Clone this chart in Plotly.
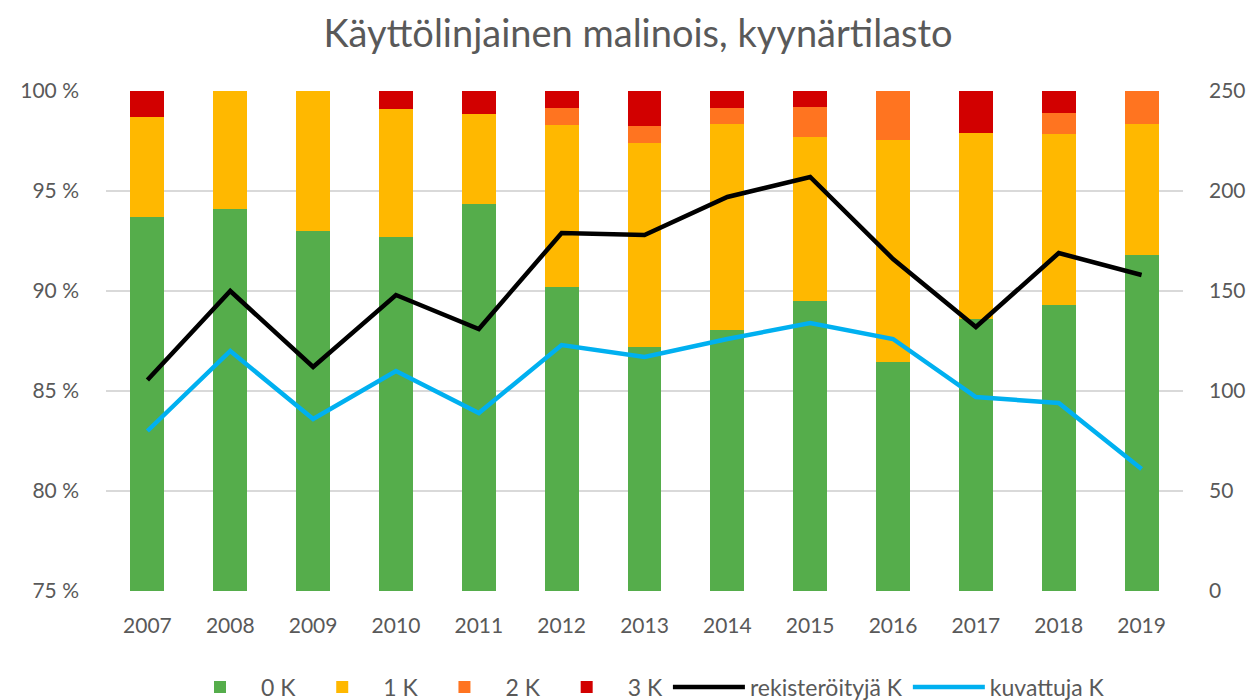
import plotly.graph_objects as go

years = ["2007", "2008", "2009", "2010", "2011", "2012", "2013",
         "2014", "2015", "2016", "2017", "2018", "2019"]
k0 = [93.7, 94.1, 93.0, 92.7, 94.35, 90.2, 87.2, 88.05, 89.5, 86.45, 88.6, 89.3, 91.8]
k1 = [5.0, 5.9, 7.0, 6.4, 4.5, 8.1, 10.2, 10.3, 8.2, 11.1, 9.3, 8.55, 6.55]
k2 = [0, 0, 0, 0, 0, 0.85, 0.85, 0.8, 1.5, 2.45, 0, 1.05, 1.65]
k3 = [1.3, 0, 0, 0.9, 1.15, 0.85, 1.75, 0.85, 0.8, 0, 2.1, 1.1, 0]
rekisteroityja = [105.5, 150, 112, 148, 131, 179, 178, 197, 207, 166, 132, 169, 158]
kuvattuja = [80, 120, 86, 110, 89, 123, 117, 126, 134, 126, 97, 94, 61]

left_ticks = [75, 80, 85, 90, 95, 100]
left_labels = ["75 %", "80 %", "85 %", "90 %", "95 %", "100 %"]
right_ticks = [0, 50, 100, 150, 200, 250]

font = "Lato"
grey = "#595959"

fig = go.Figure()
for name, vals, col in [("0 K", k0, "#55AD4B"), ("1 K", k1, "#FFB800"),
                        ("2 K", k2, "#FF7420"), ("3 K", k3, "#D20000")]:
    fig.add_trace(go.Bar(x=years, y=vals, name=name, marker_color=col,
                         marker_line_width=0))
fig.add_trace(go.Scatter(x=years, y=rekisteroityja, name="rekisteröityjä K",
                         mode="lines", line=dict(color="black", width=4.5),
                         yaxis="y2"))
fig.add_trace(go.Scatter(x=years, y=kuvattuja, name="kuvattuja K",
                         mode="lines", line=dict(color="#00B0F0", width=4.5),
                         yaxis="y2"))

fig.update_layout(
    width=1260, height=700,
    barmode="stack", bargap=0.59,
    paper_bgcolor="white", plot_bgcolor="white",
    margin=dict(l=92, r=85, t=83, b=117),
    font=dict(family=font, size=21, color=grey),
    title=dict(text="Käyttölinjainen malinois, kyynärtilasto",
               x=0.5, xanchor="center", y=0.964, yanchor="middle",
               font=dict(family=font, size=38, color=grey)),
    xaxis=dict(showgrid=False, showline=False, ticks="",
               tickfont=dict(size=21), ticklabelstandoff=20),
    yaxis=dict(range=[75, 100], tickvals=left_ticks, ticktext=left_labels,
               showgrid=True, gridcolor="#D9D9D9", gridwidth=1.5,
               zeroline=False, showline=False, ticks="",
               tickfont=dict(size=21), ticklabelstandoff=26),
    yaxis2=dict(range=[0, 250], tickvals=right_ticks, overlaying="y",
                side="right", anchor="free", position=1, shift=0,
                showgrid=False, zeroline=False, showline=False,
                ticks="", tickfont=dict(size=21), ticklabelstandoff=25),
    legend=dict(orientation="h", x=0.5, xanchor="center",
                yref="container", y=0.03, yanchor="middle",
                font=dict(size=23), traceorder="normal", itemwidth=72),
)

fig.write_html("out.html")
